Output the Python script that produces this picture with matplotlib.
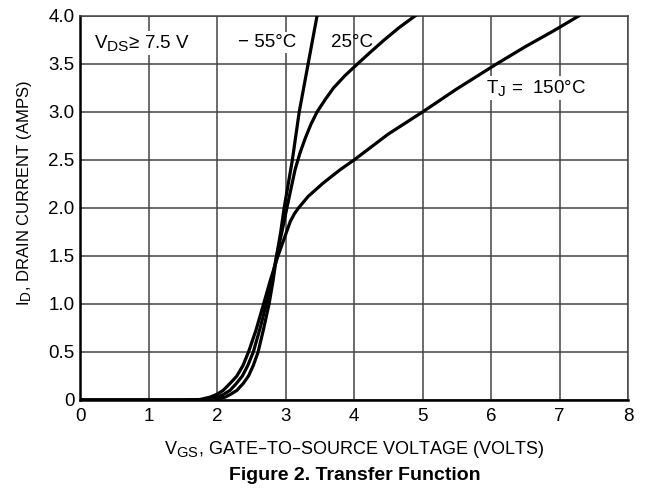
import numpy as np
import matplotlib
matplotlib.use("Agg")
import matplotlib.pyplot as plt
import matplotlib._mathtext as mathtext_impl

# subscripts in the datasheet are bigger than mathtext's default 0.7
mathtext_impl.SHRINK_FACTOR = 0.82

plt.rcParams['font.family'] = ['Liberation Sans', 'DejaVu Sans']
plt.rcParams['mathtext.default'] = 'regular'

# VGS (volts) vs ID (amps)
vgs_150 = [0, 1.0, 1.5, 1.75, 1.9, 2.0, 2.09, 2.2, 2.29, 2.38, 2.46, 2.57,
           2.68, 2.78, 2.89, 2.94, 3.01, 3.07, 3.13, 3.19, 3.33, 3.55, 3.8,
           4.0, 4.5, 5.0, 5.5, 6.08, 6.5, 6.9, 7.28]
id_150 = [0, 0, 0, 0.005, 0.03, 0.06, 0.1, 0.18, 0.25, 0.36, 0.5, 0.73,
          1.0, 1.25, 1.5, 1.6, 1.74, 1.86, 1.94, 2.0, 2.12, 2.26, 2.4,
          2.5, 2.77, 3.0, 3.24, 3.5, 3.68, 3.84, 4.0]

vgs_25 = [0, 1.0, 1.5, 1.85, 2.01, 2.1, 2.19, 2.28, 2.37, 2.45, 2.53, 2.63,
          2.72, 2.8, 2.87, 2.95, 3.02, 3.08, 3.14, 3.21, 3.29, 3.37, 3.46,
          3.58, 3.70, 3.87, 4.05, 4.25, 4.44, 4.66, 4.89]
id_25 = [0, 0, 0, 0.005, 0.03, 0.06, 0.1, 0.17, 0.25, 0.36, 0.5, 0.75,
         1.0, 1.25, 1.5, 1.76, 2.0, 2.2, 2.4, 2.57, 2.73, 2.87, 3.0,
         3.13, 3.25, 3.38, 3.5, 3.63, 3.75, 3.88, 4.0]

vgs_m55 = [0, 1.0, 1.5, 1.95, 2.12, 2.2, 2.29, 2.38, 2.46, 2.53, 2.60, 2.68,
           2.76, 2.82, 2.87, 2.93, 2.98, 3.04, 3.10, 3.15, 3.20, 3.33, 3.46]
id_m55 = [0, 0, 0, 0.005, 0.03, 0.06, 0.1, 0.17, 0.25, 0.36, 0.5, 0.74,
          1.0, 1.25, 1.5, 1.75, 2.0, 2.25, 2.5, 2.75, 3.0, 3.5, 4.0]

xticks = [0, 1, 2, 3, 4, 5, 6, 7, 8]
yticks = [0, 0.5, 1.0, 1.5, 2.0, 2.5, 3.0, 3.5, 4.0]
ylabels = ["0", "0.5", "1.0", "1.5", "2.0", "2.5", "3.0", "3.5", "4.0"]

fig = plt.figure(figsize=(6.46, 4.95), dpi=100)
ax = fig.add_axes([80 / 646, 95 / 495, 548 / 646, 384 / 495])

for x, y in [(vgs_150, id_150), (vgs_25, id_25), (vgs_m55, id_m55)]:
    ax.plot(x, y, color="black", lw=2.3, solid_joinstyle="round", zorder=3)

ax.set_xlim(0, 8)
ax.set_ylim(0, 4.0)
ax.set_xticks(xticks)
ax.set_yticks(yticks)
ax.set_yticklabels(ylabels)
ax.tick_params(length=0, labelsize=13.5, pad=4)
ax.tick_params(axis="x", pad=6)
ax.grid(True, color="#444444", lw=1.1)
ax.set_axisbelow(True)
ax.spines["top"].set_color("#444444")
ax.spines["right"].set_color("#444444")
ax.spines["top"].set_linewidth(1.1)
ax.spines["right"].set_linewidth(1.1)
ax.spines["left"].set_linewidth(1.8)
ax.spines["bottom"].set_linewidth(1.8)

box = dict(facecolor="white", edgecolor="none", pad=1.5)
ax.text(0.21, 3.72, "V$_{DS}$\u2265 7.5 V", fontsize=13.5, va="center", bbox=box, zorder=4)
ax.text(2.3, 3.72, "\u2212 55\u00b0C", fontsize=13.5, va="center", bbox=box, zorder=4)
ax.text(3.66, 3.72, "25\u00b0C", fontsize=13.5, va="center", zorder=4)
ax.text(5.93, 3.25, "T$_{J}$ =  150\u00b0C", fontsize=13.5, va="center", bbox=box, zorder=4)

ax.set_xlabel("V$_{GS}$, GATE\u2013TO\u2013SOURCE VOLTAGE (VOLTS)", fontsize=13, labelpad=10)
ax.set_ylabel("I$_{D}$, DRAIN CURRENT (AMPS)", fontsize=12)
ax.yaxis.set_label_coords(-0.084, 0.54)
fig.text(355 / 646, 1 - 475 / 495, "Figure 2. Transfer Function", fontsize=14,
         fontweight="bold", ha="center", va="center")

fig.savefig("out.png", dpi=100)
